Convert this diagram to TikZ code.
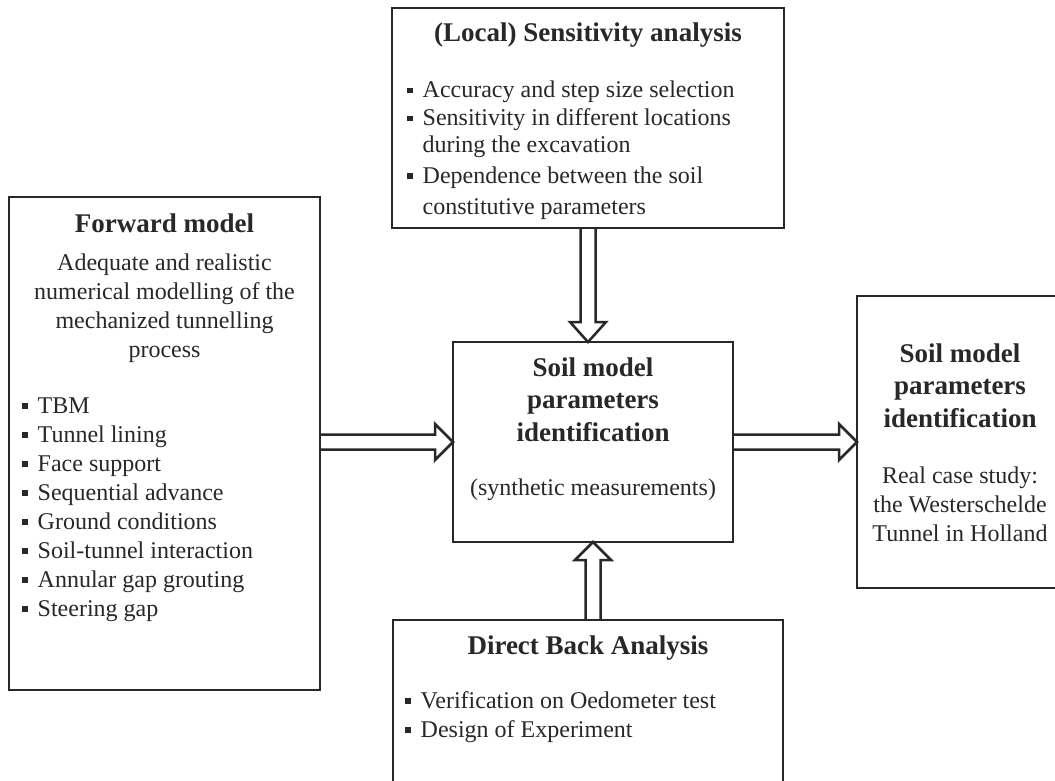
\documentclass[tikz,border=0pt]{standalone}
\usepackage{fontspec}
\setmainfont{Liberation Serif}
\usetikzlibrary{calc}
\definecolor{ink}{HTML}{282828}
\newcommand\sqb{\rule[4.5pt]{5.5pt}{5.5pt}\hspace{10pt}}
\begin{document}
\begin{tikzpicture}[x=1pt,y=-1pt,
  box/.style={draw=ink, line width=2.5pt, rectangle, outer sep=0pt, inner sep=0pt},
  arrline/.style={draw=ink, line width=2.5pt, line join=miter},
  txt/.style={inner sep=0pt, text=ink, font=\fontsize{24}{29}\selectfont},
  ttl/.style={inner sep=0pt, text=ink, font=\fontsize{27}{32.5}\selectfont\bfseries}]
\useasboundingbox (0,0) rectangle (1055,781);
\clip (0,0) rectangle (1055,781);
\fill[white] (0,0) rectangle (1055,781);
% boxes
\node[box, minimum width=311, minimum height=493] (fwd) at (164.5,443.5) {};
\node[box, minimum width=392, minimum height=220] (sens) at (588,118) {};
\node[box, minimum width=280, minimum height=200] (ctr) at (593,442) {};
\node[box, minimum width=206, minimum height=292] (res) at (960,442) {};
\node[box, minimum width=390, minimum height=180] (dba) at (588,710) {};
% forward model
\node[ttl, anchor=base] (fwdT) at (164.5,232) {Forward model};
\foreach \t [count=\i] in {Adequate and realistic, numerical modelling of the, mechanized tunnelling, process}
  \node[txt, anchor=base] (fwdD\i) at (164.5,{270+29*(\i-1)}) {\t};
\foreach \t [count=\i] in {TBM, Tunnel lining, Face support, Sequential advance, Ground conditions, Soil-tunnel interaction, Annular gap grouting, Steering gap}
  \node[txt, anchor=base west] (fwdB\i) at (22,{413+29*(\i-1)}) {\sqb\t};
% sensitivity
\node[ttl, anchor=base] (sensT) at (588,42) {(Local) Sensitivity analysis};
\node[txt, anchor=base west] (sens1) at (407,98) {\sqb Accuracy and step size selection};
\node[txt, anchor=base west] (sens2) at (407,126) {\sqb Sensitivity in different locations};
\node[txt, anchor=base west] (sens3) at (422.5,153) {during the excavation};
\node[txt, anchor=base west] (sens4) at (407,183) {\sqb Dependence between the soil};
\node[txt, anchor=base west] (sens5) at (422.5,214) {constitutive parameters};
% centre
\node[ttl, anchor=base] (ctr1) at (593,376) {Soil model};
\node[ttl, anchor=base] (ctr2) at (593,408.5) {parameters};
\node[ttl, anchor=base] (ctr3) at (593,441) {identification};
\node[txt, anchor=base] (ctr4) at (593,495) {(synthetic measurements)};
% result
\node[ttl, anchor=base] (res1) at (960,362) {Soil model};
\node[ttl, anchor=base] (res2) at (960,394.5) {parameters};
\node[ttl, anchor=base] (res3) at (960,427) {identification};
\node[txt, anchor=base] (res4) at (960,483) {Real case study:};
\node[txt, anchor=base] (res5) at (960,512) {the Westerschelde};
\node[txt, anchor=base] (res6) at (960,541) {Tunnel in Holland};
% direct back analysis
\node[ttl, anchor=base] (dbaT) at (588,654) {Direct Back Analysis};
\node[txt, anchor=base west] (dba1) at (405,708) {\sqb Verification on Oedometer test};
\node[txt, anchor=base west] (dba2) at (405,737) {\sqb Design of Experiment};
% hollow arrows
\coordinate (a1s) at (fwd.east |- ctr.west);
\draw[arrline] ($(a1s)+(0,-7.5)$) -- ($(ctr.west)+(-18,-7.5)$) -- ($(ctr.west)+(-18,-18)$) -- (ctr.west)
  -- ($(ctr.west)+(-18,18)$) -- ($(ctr.west)+(-18,7.5)$) -- ($(a1s)+(0,7.5)$);
\coordinate (a2e) at (res.west |- ctr.east);
\draw[arrline] ($(ctr.east)+(0,-7.5)$) -- ($(a2e)+(-18,-7.5)$) -- ($(a2e)+(-18,-18)$) -- (a2e)
  -- ($(a2e)+(-18,18)$) -- ($(a2e)+(-18,7.5)$) -- ($(ctr.east)+(0,7.5)$);
\coordinate (a3e) at (sens.south |- ctr.north);
\draw[arrline] ($(sens.south)+(-7.5,0)$) -- ($(a3e)+(-7.5,-20)$) -- ($(a3e)+(-18,-20)$) -- (a3e)
  -- ($(a3e)+(18,-20)$) -- ($(a3e)+(7.5,-20)$) -- ($(sens.south)+(7.5,0)$);
\coordinate (a4s) at (ctr.south |- dba.north);
\draw[arrline] ($(a4s)+(-7.5,0)$) -- ($(ctr.south)+(-7.5,18)$) -- ($(ctr.south)+(-18,18)$) -- (ctr.south)
  -- ($(ctr.south)+(18,18)$) -- ($(ctr.south)+(7.5,18)$) -- ($(a4s)+(7.5,0)$);
\end{tikzpicture}
\end{document}
